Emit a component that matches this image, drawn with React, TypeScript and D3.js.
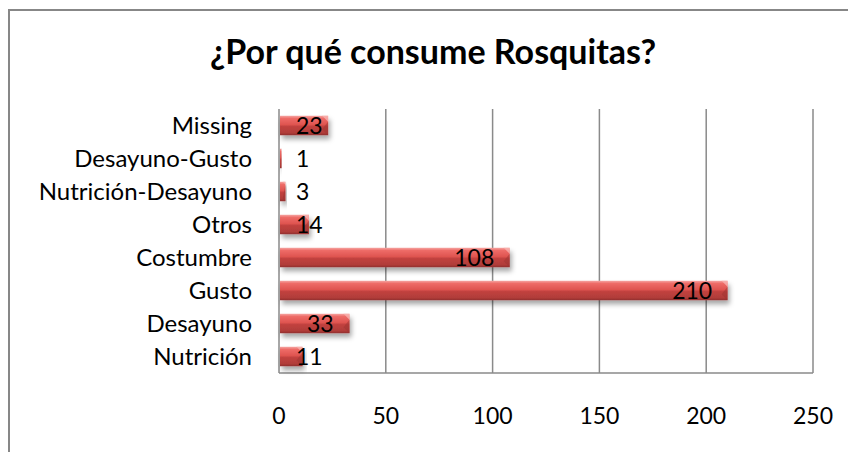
import React from 'react'
import * as d3 from 'd3'

// Chart data (top to bottom as drawn)
const categories = [
  'Missing',
  'Desayuno-Gusto',
  'Nutrición-Desayuno',
  'Otros',
  'Costumbre',
  'Gusto',
  'Desayuno',
  'Nutrición',
]
const values = [23, 1, 3, 14, 108, 210, 33, 11]
const xTicks = [0, 50, 100, 150, 200, 250]
const title = '¿Por qué consume Rosquitas?'

const W = 848
const H = 452
const FONT = 'Lato, "Liberation Sans", sans-serif'

export default function App() {
  const margin = { top: 109, left: 279, right: W - 813, bottom: H - 373 }

  const x = d3.scaleLinear()
    .domain([0, 250])
    .range([margin.left, W - margin.right])

  const y = d3.scaleBand()
    .domain(categories)
    .range([margin.top, H - margin.bottom])
    .paddingInner(0.41)
    .paddingOuter(0.205)

  const bh = y.bandwidth()
  const digitW = 12.8

  return (
    <svg
      width={W}
      height={H}
      style={{ position: 'absolute', left: 0, top: 0, background: '#fff' }}
      fontFamily={FONT}
    >
      <defs>
        <linearGradient id="barGrad" x1="0" y1="0" x2="0" y2="1">
          <stop offset="0%" stopColor="#f5a5a2" />
          <stop offset="14%" stopColor="#ee6c68" />
          <stop offset="45%" stopColor="#df5450" />
          <stop offset="55%" stopColor="#c2423f" />
          <stop offset="88%" stopColor="#b03c39" />
          <stop offset="100%" stopColor="#8f2f2d" />
        </linearGradient>
        <filter id="shadow" x="-20%" y="-40%" width="140%" height="220%">
          <feDropShadow dx="2" dy="4" stdDeviation="2.5" floodColor="#000" floodOpacity="0.35" />
        </filter>
      </defs>

      {/* chart frame */}
      <rect x={9} y={10} width={W} height={H} fill="#fff" stroke="#878787" strokeWidth={2} />

      <text
        x={433}
        y={64}
        textAnchor="middle"
        fontSize={34}
        fontWeight="bold"
        fill="#000"
      >
        {title}
      </text>

      {/* gridlines + plot border */}
      {xTicks.map(t => (
        <line
          key={t}
          x1={x(t)}
          x2={x(t)}
          y1={margin.top}
          y2={H - margin.bottom}
          stroke="#8a8a8a"
          strokeWidth={1.5}
        />
      ))}
      <line
        x1={x(0)}
        x2={x(250)}
        y1={H - margin.bottom}
        y2={H - margin.bottom}
        stroke="#8a8a8a"
        strokeWidth={1.5}
      />

      {/* bars */}
      {categories.map((c, i) => {
        const x0 = x(0) + 1
        const x1 = x(values[i])
        const w = Math.max(x1 - x0, 1.5)
        const y0 = y(c) as number
        const bev = Math.min(6, w / 2)
        return (
          <g key={c}>
            <rect x={x0} y={y0} width={w} height={bh} fill="url(#barGrad)" filter="url(#shadow)" />
            {/* bevel at the bar end */}
            <path
              d={`M${x0 + w - bev},${y0} L${x0 + w},${y0} L${x0 + w},${y0 + bev} Z`}
              fill="#f7b3b0"
              opacity={0.8}
            />
            <path
              d={`M${x0 + w},${y0 + bev} L${x0 + w},${y0 + bh} L${x0 + w - bev},${y0 + bh - bev} Z`}
              fill="#9c3431"
              opacity={0.5}
            />
          </g>
        )
      })}

      {/* value labels */}
      {categories.map((c, i) => {
        const label = String(values[i])
        const tw = label.length * digitW
        const right = x(values[i]) - 17
        const minLeft = x(0) + 17
        const cy = (y(c) as number) + bh / 2
        const left = right - tw < minLeft ? minLeft : right - tw
        return (
          <text key={c} x={left} y={cy + 8.5} fontSize={23} fill="#000">
            {label}
          </text>
        )
      })}

      {/* category labels */}
      {categories.map(c => (
        <text
          key={c}
          x={252}
          y={(y(c) as number) + bh / 2 + 8.5}
          textAnchor="end"
          fontSize={24}
          fill="#000"
        >
          {c}
        </text>
      ))}

      {/* x tick labels */}
      {xTicks.map(t => (
        <text key={t} x={x(t)} y={424} textAnchor="middle" fontSize={23} fill="#000">
          {t}
        </text>
      ))}
    </svg>
  )
}
